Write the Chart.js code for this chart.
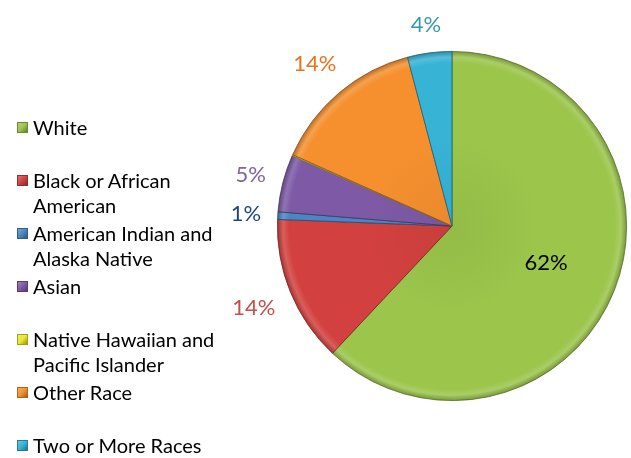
<!DOCTYPE html>
<html>
<head>
<meta charset="utf-8">
<script src="https://cdn.jsdelivr.net/npm/chart.js@4.4.1/dist/chart.umd.min.js"></script>
<style>
  html, body { margin: 0; padding: 0; background: #fff; }
  #wrap { position: relative; width: 631px; height: 458px; overflow: hidden; }
  #c { position: absolute; left: 0; top: 0; }
  #legend { position: absolute; left: 17px; top: 115px; font-family: Lato, "Open Sans", sans-serif; font-size: 20px; color: #000; }
  .item { height: 53px; display: flex; align-items: flex-start; }
  .sw { width: 11px; height: 11px; margin-top: 7px; margin-right: 5px; flex: none; box-sizing: border-box; }
  .txt { width: 188px; line-height: 25px; }
</style>
</head>
<body>
<div id="wrap">
  <canvas id="c" width="631" height="458"></canvas>
  <div id="legend"></div>
</div>
<script>
const categories = ["White", "Black or African American", "American Indian and Alaska Native", "Asian", "Native Hawaiian and Pacific Islander", "Other Race", "Two or More Races"];
const values = [62.0, 13.6, 0.7, 5.3, 0.1, 14.2, 4.1];
const colors = ["#9bc54b", "#d2413f", "#4a86c5", "#7e5aa6", "#e8e82a", "#f6902f", "#37b3d6"];
const labelColors = ["#000000", "#c0504d", "#1f497d", "#8064a2", "#9b9b00", "#e8731c", "#3797b0"];

function shade(hex, f) {
  const n = parseInt(hex.slice(1), 16);
  let r = (n >> 16) & 255, g = (n >> 8) & 255, b = n & 255;
  if (f >= 0) { r += (255 - r) * f; g += (255 - g) * f; b += (255 - b) * f; }
  else { r *= 1 + f; g *= 1 + f; b *= 1 + f; }
  return `rgb(${Math.round(r)},${Math.round(g)},${Math.round(b)})`;
}

// legend
const lg = document.getElementById('legend');
categories.forEach((c, i) => {
  const it = document.createElement('div'); it.className = 'item';
  const sw = document.createElement('div'); sw.className = 'sw';
  sw.style.background = `linear-gradient(135deg, ${shade(colors[i], 0.25)}, ${colors[i]} 50%, ${shade(colors[i], -0.35)})`;
  sw.style.border = `1px solid ${shade(colors[i], -0.3)}`;
  const t = document.createElement('div'); t.className = 'txt'; t.textContent = c;
  it.appendChild(sw); it.appendChild(t); lg.appendChild(it);
});

const total = values.reduce((a, b) => a + b, 0);

const labelPlugin = {
  id: 'pctLabels',
  afterDatasetsDraw(chart) {
    const ctx = chart.ctx;
    const meta = chart.getDatasetMeta(0);
    ctx.save();
    ctx.font = '22px Lato, "Open Sans", sans-serif';
    ctx.textAlign = 'center';
    ctx.textBaseline = 'middle';
    meta.data.forEach((arc, i) => {
      const pct = Math.round(values[i] / total * 100);
      if (pct < 1) return;
      const txt = pct + '%';
      const { x, y, startAngle, endAngle, outerRadius } = arc.getProps(['x', 'y', 'startAngle', 'endAngle', 'outerRadius'], true);
      const mid = (startAngle + endAngle) / 2;
      const cs = Math.cos(mid), sn = Math.sin(mid);
      let d;
      if (i === 0) {
        d = outerRadius * 0.58;
      } else {
        const w = ctx.measureText(txt).width, h = 20;
        d = outerRadius + 16 + Math.abs(cs) * w / 2 + Math.abs(sn) * h / 2;
      }
      ctx.fillStyle = labelColors[i];
      ctx.fillText(txt, x + cs * d, y + sn * d);
    });
    ctx.restore();
  }
};

new Chart(document.getElementById('c'), {
  type: 'pie',
  data: {
    labels: categories,
    datasets: [{
      data: values,
      backgroundColor: (ctx) => {
        const chart = ctx.chart;
        const a = chart.chartArea;
        if (!a) return colors[ctx.dataIndex];
        const cx = (a.left + a.right) / 2, cy = (a.top + a.bottom) / 2;
        const r = Math.min(a.right - a.left, a.bottom - a.top) / 2;
        const g = chart.ctx.createRadialGradient(cx, cy, 0, cx, cy, r);
        const base = colors[ctx.dataIndex];
        g.addColorStop(0, shade(base, -0.05));
        g.addColorStop(0.5, base);
        g.addColorStop(0.93, base);
        g.addColorStop(0.965, shade(base, 0.15));
        g.addColorStop(1, shade(base, -0.25));
        return g;
      },
      borderColor: colors.map(c => shade(c, -0.45)),
      borderWidth: 0.8
    }]
  },
  options: {
    responsive: false,
    animation: false,
    layout: { padding: { left: 277, right: 4, top: 51, bottom: 57 } },
    plugins: { legend: { display: false }, tooltip: { enabled: false } }
  },
  plugins: [labelPlugin]
});
</script>
</body>
</html>
